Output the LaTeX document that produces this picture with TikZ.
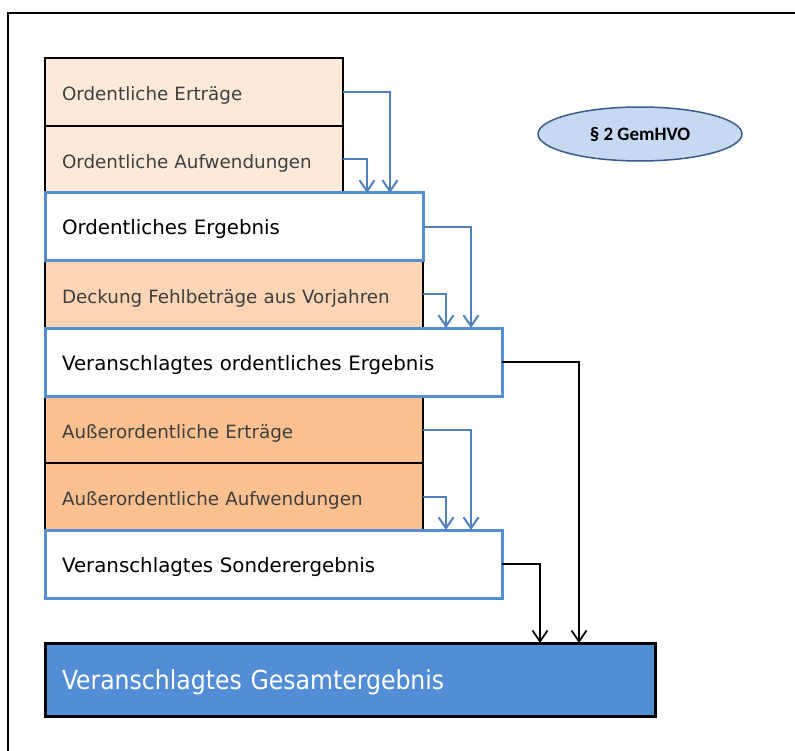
\documentclass[tikz,border=0pt]{standalone}
\usepackage{fontspec}
\setmainfont{DejaVu Sans}
\newfontfamily\condfont{DejaVu Sans Condensed}
\newfontfamily\calfont{Carlito}
\usetikzlibrary{arrows.meta,shapes.geometric}
\definecolor{peachA}{HTML}{FDE9D9}
\definecolor{peachB}{HTML}{FCD5B4}
\definecolor{peachC}{HTML}{FAC090}
\definecolor{bluebd}{HTML}{558ED5}
\definecolor{bluefill}{HTML}{538DD5}
\definecolor{conblue}{HTML}{4F81BD}
\definecolor{ellfill}{HTML}{C6D9F1}
\definecolor{elldraw}{HTML}{385D8A}
\definecolor{graytext}{HTML}{3F3F3F}
\tikzset{
  basebox/.style={rectangle, outer sep=0pt, inner xsep=17pt, inner ysep=0pt, align=left,
    text height=17.4pt, text depth=0pt, font=\fontsize{18.3}{21}\selectfont},
  colbox/.style={basebox, draw=black, line width=1.8pt, text=graytext},
  whitebox/.style={basebox, draw=bluebd, fill=white, line width=3pt, text=black,
    text height=16pt, text depth=0pt, font=\fontsize{19.8}{23}\selectfont},
  totalbox/.style={basebox, draw=black, fill=bluefill, line width=3pt, text=white,
    text height=19pt, text depth=0pt, font=\condfont\fontsize{26.2}{30}\selectfont},
  ellnode/.style={ellipse, draw=elldraw, fill=ellfill, line width=1.5pt,
    minimum width=204pt, minimum height=54pt, font=\calfont\bfseries\fontsize{19}{22}\selectfont},
  bluecon/.style={draw=conblue, line width=2pt, -{Straight Barb[length=11pt,width=15pt,line width=2pt]}},
  blackcon/.style={draw=black, line width=1.7pt, -{Straight Barb[length=11pt,width=15pt,line width=1.7pt]}},
}
\begin{document}
\begin{tikzpicture}[x=1pt,y=-1pt]
\useasboundingbox (0,0) rectangle (795,751);
% frame
\draw[line width=2.5pt] (8,751) -- (8,13) -- (795,13);
% coloured boxes
\node[colbox, fill=peachA, minimum width=298pt, minimum height=68pt, text width=264pt] (b1) at (194,92) {Ordentliche Erträge};
\node[colbox, fill=peachA, minimum width=298pt, minimum height=67pt, text width=264pt] (b2) at (194,159.5) {Ordentliche Aufwendungen};
\node[colbox, fill=peachB, minimum width=378pt, minimum height=67pt, text width=344pt] (b4) at (234,294.5) {Deckung Fehlbeträge aus Vorjahren};
\node[colbox, fill=peachC, minimum width=378pt, minimum height=67pt, text width=344pt] (b6) at (234,429.5) {Außerordentliche Erträge};
\node[colbox, fill=peachC, minimum width=378pt, minimum height=67pt, text width=344pt] (b7) at (234,496.5) {Außerordentliche Aufwendungen};
% white result boxes
\node[whitebox, minimum width=378pt, minimum height=68pt, text width=344pt] (b3) at (234,227) {Ordentliches Ergebnis};
\node[whitebox, minimum width=457pt, minimum height=68pt, text width=423pt] (b5) at (273.5,362) {Veranschlagtes ordentliches Ergebnis};
\node[whitebox, minimum width=457pt, minimum height=68pt, text width=423pt] (b8) at (273.5,564) {Veranschlagtes Sonderergebnis};
% total
\node[totalbox, minimum width=610pt, minimum height=73pt, text width=576pt] (b9) at (350,679.5) {Veranschlagtes Gesamtergebnis};
% ellipse
\node[ellnode] (gem) at (640,134) {§ 2 GemHVO};
% connectors
\draw[bluecon] (b1.east) -| ([xshift=345pt]b3.north west);
\draw[bluecon] (b2.east) -| ([xshift=322pt]b3.north west);
\draw[bluecon] (b3.east) -| ([xshift=426pt]b5.north west);
\draw[bluecon] (b4.east) -| ([xshift=401pt]b5.north west);
\draw[bluecon] (b6.east) -| ([xshift=426pt]b8.north west);
\draw[bluecon] (b7.east) -| ([xshift=401pt]b8.north west);
\draw[blackcon] (b5.east) -| ([xshift=534pt]b9.north west);
\draw[blackcon] (b8.east) -| ([xshift=495pt]b9.north west);
\end{tikzpicture}
\end{document}
